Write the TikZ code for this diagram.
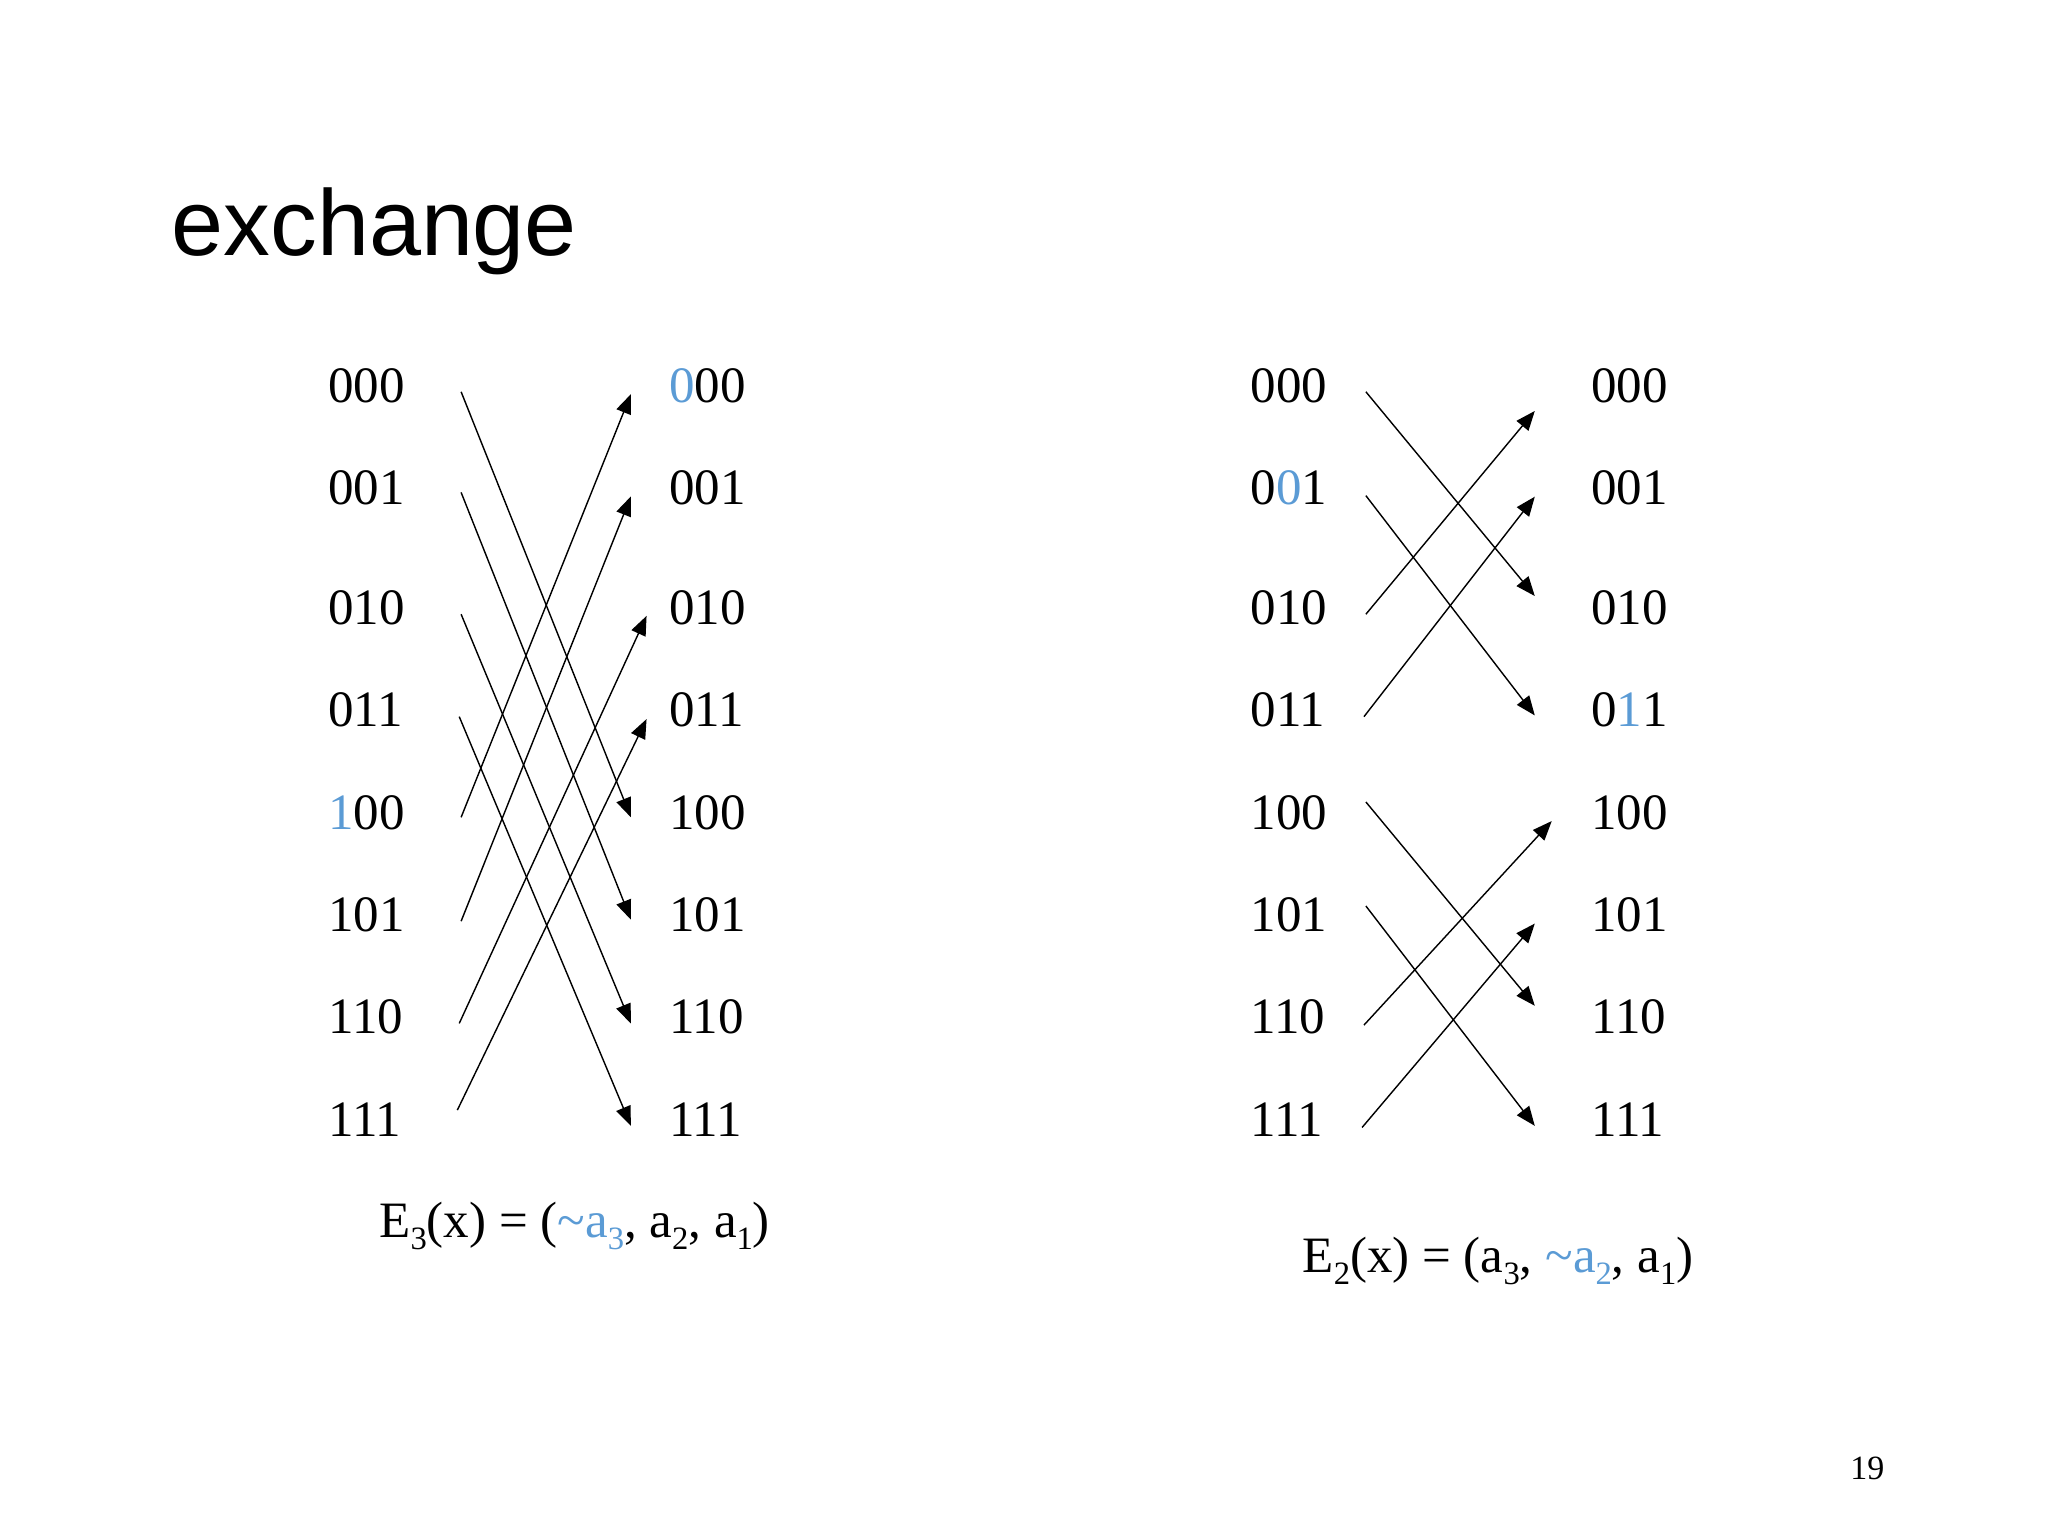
\documentclass[tikz,border=0pt]{standalone}
\usepackage{fontspec}
\setmainfont{Liberation Serif}
\newfontfamily\titlefont{Liberation Sans}
\usetikzlibrary{arrows.meta}

\definecolor{hiblue}{RGB}{91,155,213}
\newcommand{\blu}[1]{\textcolor{hiblue}{#1}}
\newcommand{\lowi}[1]{\raisebox{-4.3pt}{\fontsize{11.5pt}{12pt}\selectfont #1}}

\begin{document}
\begin{tikzpicture}[
    bit/.style={anchor=west, inner sep=0pt, font=\fontsize{18pt}{21pt}\selectfont},
    arr/.style={-{Triangle[length=0.24cm, width=0.19cm]}, line width=0.5pt},
    formula/.style={anchor=west, inner sep=0pt, font=\fontsize{18pt}{21pt}\selectfont}
  ]
  \useasboundingbox (0,0) rectangle (25.4,-19.05);

  \node[anchor=base west, inner sep=0pt, font=\titlefont\fontsize{33pt}{39pt}\selectfont] (title) at (2.12,-3.17) {exchange};

  % the four columns of addresses
  \foreach \n/\y/\ai/\ao/\bi/\bo in {
      000/4.779/000/{\blu{0}00}/000/000,
      001/6.047/001/001/{0\blu{0}1}/001,
      010/7.538/010/010/010/010,
      011/8.808/011/011/011/{0\blu{1}1},
      100/10.076/{\blu{1}00}/100/100/100,
      101/11.345/101/101/101/101,
      110/12.613/110/110/110/110,
      111/13.883/111/111/111/111} {
      \node[bit] (ain-\n) at (4.066,-\y) {\ai};
      \node[bit] (aout-\n) at (8.294,-\y) {\ao};
      \node[bit] (bin-\n) at (15.503,-\y) {\bi};
      \node[bit] (bout-\n) at (19.731,-\y) {\bo};
    }

  % E3: flip the top bit
  \foreach \s/\t/\ys/\ye/\xe in {
      000/100/-0.08/-0.06/-0.47, 001/101/-0.06/-0.06/-0.47,
      010/110/-0.08/-0.08/-0.47, 011/111/-0.08/-0.08/-0.47,
      100/000/-0.06/-0.11/-0.47, 101/001/-0.08/-0.11/-0.47,
      110/010/-0.08/-0.10/-0.275, 111/011/0.115/-0.11/-0.275} {
      \draw[arr] ([shift={(0.69,\ys)}]ain-\s.east) -- ([shift={(\xe,\ye)}]aout-\t.west);
    }

  % E2: flip the middle bit
  \foreach \s/\t/\ys/\ye/\xe in {
      000/010/-0.08/0.146/-0.696, 001/011/-0.10/-0.065/-0.696,
      010/000/-0.08/-0.318/-0.696, 011/001/-0.08/-0.113/-0.696,
      100/110/0.13/0.139/-0.696, 101/111/0.109/-0.08/-0.696,
      110/100/-0.10/-0.107/-0.486, 111/101/-0.10/-0.109/-0.696} {
      \draw[arr] ([shift={(0.474,\ys)}]bin-\s.east) -- ([shift={(\xe,\ye)}]bout-\t.west);
    }

  \node[formula] (e3) at (4.698,-15.2) {E\lowi{3}(x) = (\blu{\textasciitilde a\lowi{3}}, a\lowi{2}, a\lowi{1})};
  \node[formula] (e2) at (16.151,-15.64) {E\lowi{2}(x) = (a\lowi{3}, \blu{\textasciitilde a\lowi{2}}, a\lowi{1})};

  \node[anchor=east, inner sep=0pt, font=\fontsize{12pt}{14pt}\selectfont] (page) at (23.376,-18.208) {19};

\end{tikzpicture}
\end{document}
